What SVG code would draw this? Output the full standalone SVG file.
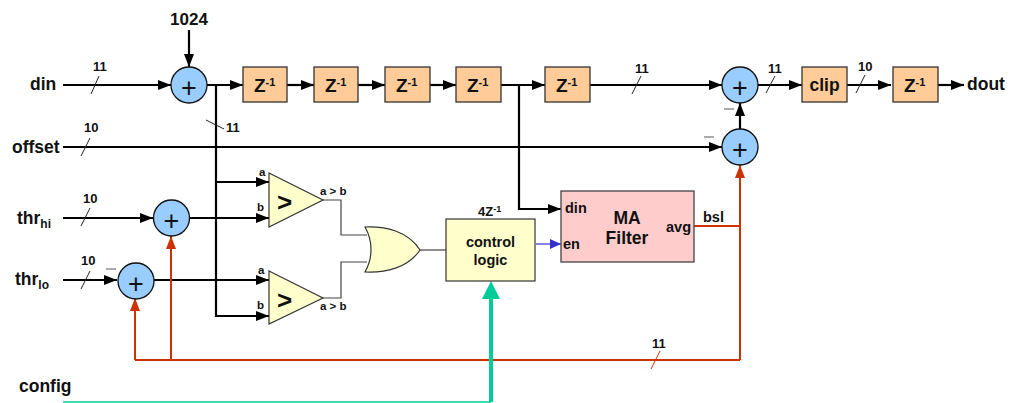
<svg xmlns="http://www.w3.org/2000/svg" width="1011" height="403" viewBox="0 0 1011 403">
<style>
text{font-family:"Liberation Sans",Arial,sans-serif;font-weight:bold;fill:#111}
.l{font-size:17.500px}.n{font-size:13px}.m{font-size:14.500px}.big{font-size:17px}.p{font-size:11.500px}.gt{font-size:26px}.plus{font-size:27px;font-weight:normal}
.z{font-size:19px}.sup{font-size:11px}.sub{font-size:12px}.sup2{font-size:9px}
.sum{fill:#99ccff;stroke:#111;stroke-width:1.300}
.reg{fill:#ffcc99;stroke:#333;stroke-width:1.300}
.cmp{fill:#ffffcc;stroke:#333;stroke-width:1.200}
.w{fill:none;stroke:#000;stroke-width:2.200}
.t{fill:none;stroke:#444;stroke-width:1.200}
.r{fill:none;stroke:#cc3300;stroke-width:2}
.s{stroke:#222;stroke-width:1;fill:none}
</style>
<defs>
<marker id="ak" markerUnits="userSpaceOnUse" markerWidth="13" markerHeight="10" refX="13" refY="5" orient="auto"><path d="M0 0L13 5L0 10Z" fill="#000"/></marker>
<marker id="ar" markerUnits="userSpaceOnUse" markerWidth="13" markerHeight="10" refX="13" refY="5" orient="auto"><path d="M0 0L13 5L0 10Z" fill="#cc3300"/></marker>
<marker id="ab" markerUnits="userSpaceOnUse" markerWidth="11" markerHeight="10" refX="11" refY="5" orient="auto"><path d="M0 0L11 5L0 10Z" fill="#3333cc"/></marker>
</defs>
<g id="connectors">
<path class="w" marker-end="url(#ak)" d="M63 85H171"/>
<path class="w" marker-end="url(#ak)" d="M189 30V67"/>
<path class="w" marker-end="url(#ak)" d="M207 85H243"/>
<path class="w" marker-end="url(#ak)" d="M287 85H314"/>
<path class="w" marker-end="url(#ak)" d="M358 85H385"/>
<path class="w" marker-end="url(#ak)" d="M430 85H456"/>
<path class="w" marker-end="url(#ak)" d="M501 85H545"/>
<path class="w" marker-end="url(#ak)" d="M590 85H722"/>
<path class="w" marker-end="url(#ak)" d="M758 85H802"/>
<path class="w" marker-end="url(#ak)" d="M847 85H891"/>
<path class="w" marker-end="url(#ak)" d="M938 85H964"/>
<path class="w" marker-end="url(#ak)" d="M740 129V103"/>
<path class="w" marker-end="url(#ak)" d="M63 147H722"/>
<path class="w" marker-end="url(#ak)" d="M216 85V316H269"/>
<path class="w" marker-end="url(#ak)" d="M216 182H269"/>
<path class="w" marker-end="url(#ak)" d="M63 218H153"/>
<path class="w" marker-end="url(#ak)" d="M190 218H269"/>
<path class="w" marker-end="url(#ak)" d="M63 280H117"/>
<path class="w" marker-end="url(#ak)" d="M154 280H269"/>
<path class="w" marker-end="url(#ak)" d="M519 85V209H561"/>
<path class="t" d="M323 200H341V235H367"/>
<path class="t" d="M323 298H341V262H367"/>
<path class="t" d="M420 250H446"/>
<path fill="none" stroke="#3333cc" stroke-width="1.200" marker-end="url(#ab)" d="M536 244H561"/>
<path class="r" marker-end="url(#ar)" d="M135 360V298"/>
<path class="r" marker-end="url(#ar)" d="M171 360V236"/>
<path class="r" d="M135 360H740"/>
<path class="r" marker-end="url(#ar)" d="M740 360V165"/>
<path class="r" d="M694 226H740"/>
<path fill="none" stroke="#00cc99" stroke-width="1.500" d="M63 402H491"/>
<path fill="none" stroke="#00cc99" stroke-width="4" d="M491 402V295"/>
<path fill="#00cc99" d="M491 281L500 299H482Z"/>
<path class="s" d="M91 94L99 76M81 156L90 138M81 226L90 208M81 289L90 271M206 120L224 129M632 94L641 76M766 93L775 76M856 93L865 75"/>
<path d="M651 369L660 351" stroke="#cc3300" stroke-width="1" fill="none"/>
<path stroke="#555" stroke-width="1" fill="none" d="M106 269H116M724 109H734M704 137H714"/>
</g>
<g id="sum1"><circle class="sum" cx="189" cy="85" r="18"/><text class="plus" x="189" y="97" text-anchor="middle">+</text></g>
<g id="sum2"><circle class="sum" cx="171.500" cy="218" r="18"/><text class="plus" x="171.500" y="230" text-anchor="middle">+</text></g>
<g id="sum3"><circle class="sum" cx="136" cy="281" r="18"/><text class="plus" x="136" y="293" text-anchor="middle">+</text></g>
<g id="sum4"><circle class="sum" cx="740" cy="85" r="18"/><text class="plus" x="740" y="97" text-anchor="middle">+</text></g>
<g id="sum5"><circle class="sum" cx="740" cy="147" r="18"/><text class="plus" x="740" y="159" text-anchor="middle">+</text></g>
<g id="z1"><rect class="reg" x="243" y="67" width="44" height="35"/><text class="z" x="254" y="92">Z<tspan class="sup" dy="-6">-1</tspan></text></g>
<g id="z2"><rect class="reg" x="314" y="67" width="44" height="35"/><text class="z" x="325" y="92">Z<tspan class="sup" dy="-6">-1</tspan></text></g>
<g id="z3"><rect class="reg" x="385" y="67" width="45" height="35"/><text class="z" x="396" y="92">Z<tspan class="sup" dy="-6">-1</tspan></text></g>
<g id="z4"><rect class="reg" x="456" y="67" width="45" height="35"/><text class="z" x="467" y="92">Z<tspan class="sup" dy="-6">-1</tspan></text></g>
<g id="z5"><rect class="reg" x="545" y="67" width="45" height="35"/><text class="z" x="556" y="92">Z<tspan class="sup" dy="-6">-1</tspan></text></g>
<g id="clip"><rect class="reg" x="802" y="67" width="45" height="35"/><text class="l" x="824.500" y="91" text-anchor="middle">clip</text></g>
<g id="z6"><rect class="reg" x="893" y="67" width="45" height="35"/><text class="z" x="904" y="92">Z<tspan class="sup" dy="-6">-1</tspan></text></g>
<g id="cmp1"><path class="cmp" d="M269 173L323 200L269 227Z"/><text class="gt" x="277" y="211">&gt;</text><text class="p" x="320" y="195">a &gt; b</text><text class="p" x="259" y="176">a</text><text class="p" x="257" y="211">b</text></g>
<g id="cmp2"><path class="cmp" d="M269 271L323 298L269 324Z"/><text class="gt" x="277" y="309">&gt;</text><text class="p" x="320" y="310">a &gt; b</text><text class="p" x="258" y="274">a</text><text class="p" x="257" y="309">b</text></g>
<g id="or"><path class="cmp" d="M365 227C385 226 408 231 420 250C408 268 385 273 365 272C373 258 373 241 365 227Z"/></g>
<g id="control"><rect class="cmp" x="446" y="219" width="89" height="62"/><text class="m" x="490.500" y="247" text-anchor="middle">control</text><text class="m" x="490.500" y="265" text-anchor="middle">logic</text><text class="n" x="478" y="216">4Z<tspan class="sup2" dy="-4">-1</tspan></text></g>
<g id="ma"><rect fill="#ffcccc" stroke="#444" stroke-width="1.300" x="561" y="191" width="133" height="71"/><text class="l" x="627" y="224" text-anchor="middle">MA</text><text class="l" x="627" y="244" text-anchor="middle">Filter</text><text class="m" x="565" y="213">din</text><text class="m" x="563" y="249">en</text><text class="m" x="666" y="232">avg</text></g>
<g id="labels">
<text class="l" x="30" y="90">din</text><text class="l" x="12" y="153">offset</text>
<text class="l" x="17" y="224">thr<tspan class="sub" dy="4">hi</tspan></text>
<text class="l" x="15" y="285">thr<tspan class="sub" dy="4">lo</tspan></text>
<text class="l" x="19" y="392">config</text><text class="l" x="967" y="90">dout</text>
<text class="big" x="189" y="25" text-anchor="middle">1024</text>
<text class="n" x="93" y="71">11</text><text class="n" x="84" y="132">10</text><text class="n" x="83" y="203">10</text><text class="n" x="81" y="265">10</text><text class="n" x="226" y="132">11</text><text class="n" x="635" y="73">11</text><text class="n" x="768" y="73">11</text><text class="n" x="858" y="71">10</text><text class="n" x="652" y="348">11</text><text class="m" x="703" y="222">bsl</text>
</g>
</svg>
